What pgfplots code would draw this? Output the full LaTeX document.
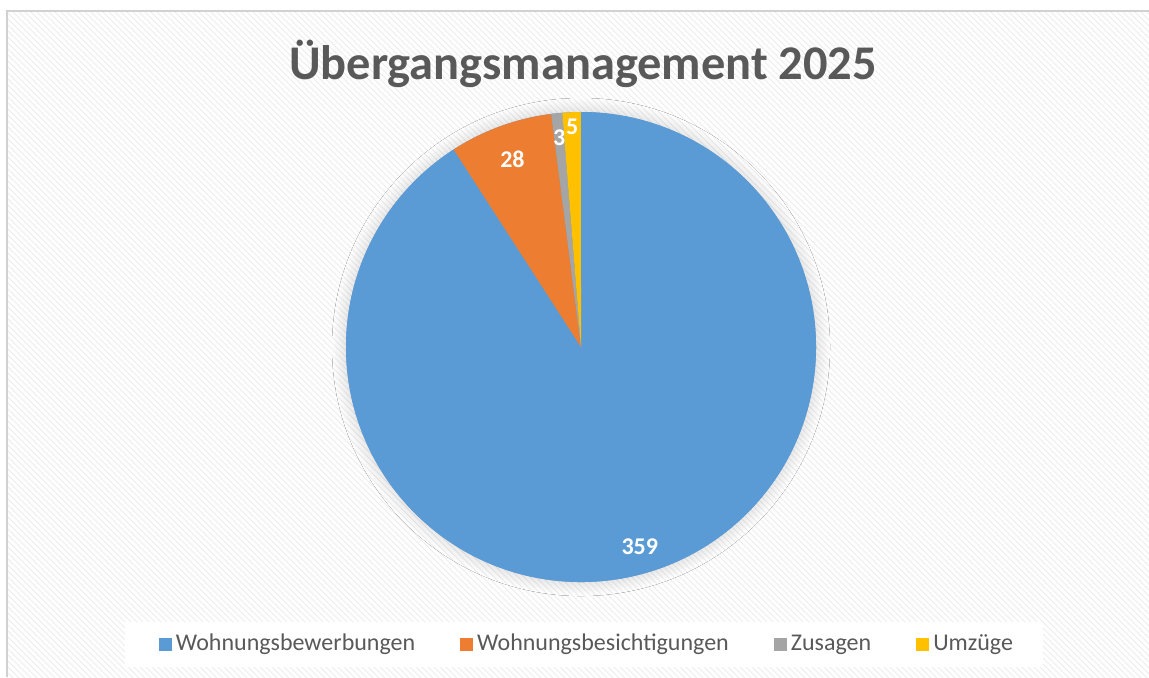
\documentclass[border=0pt]{standalone}
\usepackage{pgfplots}
\pgfplotsset{compat=1.18}
\usepackage{pgfplotstable}
\usepackage{fontspec}
\setmainfont{Carlito}
\usetikzlibrary{patterns,shadows.blur}

\definecolor{cBlue}{HTML}{5B9BD5}
\definecolor{cOrange}{HTML}{ED7D31}
\definecolor{cGray}{HTML}{A5A5A5}
\definecolor{cYellow}{HTML}{FFC000}
\definecolor{txt}{HTML}{595959}

\pgfplotstableread{
name value
Wohnungsbewerbungen 359
Wohnungsbesichtigungen 28
Zusagen 3
Umzuege 5
}\piedata

\begin{document}
\begin{tikzpicture}
\pgfplotstablegetelem{0}{value}\of\piedata \let\vA\pgfplotsretval
\pgfplotstablegetelem{1}{value}\of\piedata \let\vB\pgfplotsretval
\pgfplotstablegetelem{2}{value}\of\piedata \let\vC\pgfplotsretval
\pgfplotstablegetelem{3}{value}\of\piedata \let\vD\pgfplotsretval
% slices go clockwise from 12 o'clock
\pgfmathsetmacro\total{\vA+\vB+\vC+\vD}
\pgfmathsetmacro\aA{90-(\vA/\total)*360}
\pgfmathsetmacro\aB{\aA-(\vB/\total)*360}
\pgfmathsetmacro\aC{\aB-(\vC/\total)*360}
\pgfmathsetmacro\aD{\aC-(\vD/\total)*360}
\pgfmathsetmacro\mA{(90+\aA)/2}
\pgfmathsetmacro\mB{(\aA+\aB)/2}
\pgfmathsetmacro\mC{(\aB+\aC)/2}
\pgfmathsetmacro\mD{(\aC+\aD)/2}
\def\R{117.5pt}
\def\ctr{axis cs:581,347}
\begin{axis}[
  hide axis,
  scale only axis,
  width=574.5pt, height=338.5pt,
  xmin=0, xmax=1149, ymin=0, ymax=677,
  y dir=reverse,
  clip=false,
  legend columns=4,
  legend image code/.code={\fill[#1, draw=none] (0pt,-3.25pt) rectangle (6.5pt,3.25pt);},
  legend style={at={(0.5117,0.0487)}, anchor=center, draw=none, fill=none,
    font=\fontsize{12}{14}\selectfont, text=txt,
    /tikz/every even column/.append style={column sep=20.5pt}},
]
\coordinate (bl) at (axis cs:0,677);
\coordinate (tr) at (axis cs:1149,0);
% background
\fill[white] (axis cs:0,0) rectangle (axis cs:1149,677);
\fill[pattern=north west lines, pattern color=black!7] (axis cs:7,11) rectangle (axis cs:1149,677);
\draw[black!18, line width=1pt] (axis cs:7,677) -- (axis cs:7,11) -- (axis cs:1149,11);
% title
\node[font=\bfseries\fontsize{24.2}{26}\selectfont, text=txt] at (axis cs:583,64) {Übergangsmanagement 2025};
% pie
\fill[cBlue, blur shadow={shadow xshift=0pt, shadow yshift=0pt, shadow blur radius=7pt, shadow blur steps=25, shadow opacity=18}] (\ctr) circle[radius=\R];
\fill[cBlue] (\ctr) -- ++(90:\R) arc[start angle=90, end angle=\aA, radius=\R] -- cycle;
\fill[cOrange] (\ctr) -- ++(\aA:\R) arc[start angle=\aA, end angle=\aB, radius=\R] -- cycle;
\fill[cGray] (\ctr) -- ++(\aB:\R) arc[start angle=\aB, end angle=\aC, radius=\R] -- cycle;
\fill[cYellow] (\ctr) -- ++(\aC:\R) arc[start angle=\aC, end angle=\aD, radius=\R] -- cycle;
% data labels
\tikzset{lbl/.style={text=white, font=\bfseries\fontsize{12}{12}\selectfont, inner sep=0pt}}
\node[lbl] at ([shift={(\mA:104pt)}]\ctr) {\vA};
\node[lbl] at ([shift={(\mB:100pt)}]\ctr) {\vB};
\node[lbl] at ([shift={(\mC:105pt)}]\ctr) {\vC};
\node[lbl] at ([shift={(\mD:110pt)}]\ctr) {\vD};
% legend box
\fill[white] (axis cs:125,622) rectangle (axis cs:1043,667);
\addlegendimage{fill=cBlue}
\addlegendimage{fill=cOrange}
\addlegendimage{fill=cGray}
\addlegendimage{fill=cYellow}
\legend{Wohnungsbewerbungen, Wohnungsbesichtigungen, Zusagen, Umzüge}
\end{axis}
\pgfresetboundingbox
\path[use as bounding box] (bl) rectangle (tr);
\end{tikzpicture}
\end{document}
